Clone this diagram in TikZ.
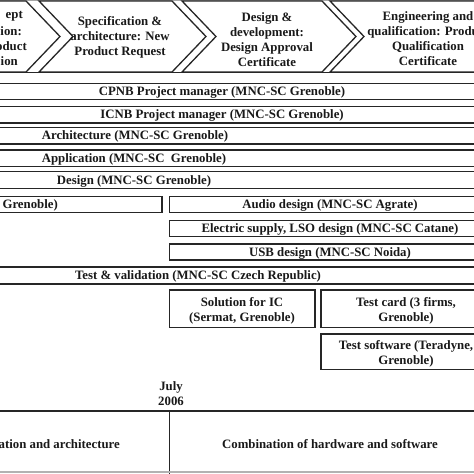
\documentclass[tikz,border=0pt]{standalone}
\usepackage{fontspec}
\setmainfont{Liberation Serif}
\begin{document}
\begin{tikzpicture}[x=1pt,y=-1pt,
  frame/.style={draw=black!85, line width=1.3pt},
  lbl/.style={font=\fontsize{12.8}{15}\selectfont\bfseries, inner sep=0pt, align=center, text=black!90}]
\useasboundingbox (0,0) rectangle (474,474);
\clip (0,0) rectangle (474,474);
\fill[white] (0,0) rectangle (474,474);
% header stages
\draw[gray!70, line width=1.6pt] (0,0.6) -- (474,0.6);
\draw[frame] (-60,1) -- (26,1) -- (60,36.5) -- (26,72) -- (-60,72) -- cycle;
\draw[frame] (39,1) -- (172,1) -- (206,36.5) -- (172,72) -- (39,72) -- (73,36.5) -- cycle;
\draw[frame] (182,1) -- (322,1) -- (356,36.5) -- (322,72) -- (182,72) -- (216,36.5) -- cycle;
\draw[frame] (330,1) -- (540,1) -- (540,72) -- (330,72) -- (364,36.5) -- cycle;
\draw[frame] (0,72.5) -- (474,72.5);
\node[lbl, anchor=east] (s1a) at (23,16.3) {ept};
\node[lbl, anchor=east] (s1b) at (22,31.3) {ion:};
\node[lbl, anchor=east] (s1c) at (27,46.3) {oduct};
\node[lbl, anchor=east] (s1d) at (18,61.3) {ion};
\node[lbl] (s2) at (120,37.8) {Specification \&\\architecture: New\\Product Request};
\node[lbl] (s3) at (267,39.3) {Design \&\\development:\\Design Approval\\Certificate};
\node[lbl] (s4) at (428,38.5) {Engineering and\\qualification: Product\\Qualification\\Certificate};
% full-width bars
\draw[frame] (-10,83.5) rectangle (490,99.5);
\node[lbl] (cpnb) at (222,92.5) {CPNB Project manager (MNC-SC Grenoble)};
\draw[frame] (-10,106.5) rectangle (490,123);
\node[lbl] (icnb) at (222,115.8) {ICNB Project manager (MNC-SC Grenoble)};
\draw[frame] (-10,127.5) rectangle (490,144);
\node[lbl] (arch) at (135,136.8) {Architecture (MNC-SC Grenoble)};
\draw[frame] (-10,150) rectangle (490,166.5);
\node[lbl] (app) at (134,159.3) {Application (MNC-SC\ \ Grenoble)};
\draw[frame] (-10,171.5) rectangle (490,188.5);
\node[lbl] (des) at (134,181) {Design (MNC-SC Grenoble)};
% row of design teams
\draw[frame] (-10,196.5) rectangle (162,212.5);
\node[lbl, anchor=east] (dig) at (58,205.5) {Grenoble)};
\draw[frame] (169.5,196.5) rectangle (495,212.5);
\node[lbl] (audio) at (330,205.5) {Audio design (MNC-SC Agrate)};
\draw[frame] (169.5,220.5) rectangle (495,236.5);
\node[lbl] (elec) at (330,229.5) {Electric supply,\ LSO design (MNC-SC Catane)};
\draw[frame] (169.5,244) rectangle (495,260);
\node[lbl] (usb) at (330,253) {USB design (MNC-SC Noida)};
\draw[frame] (-10,267) rectangle (490,284);
\node[lbl] (test) at (198,276.5) {Test \& validation (MNC-SC Czech Republic)};
% test partners
\draw[frame] (169.5,290) rectangle (315,327.5);
\node[lbl] (sol) at (242,311.2) {Solution for IC\\(Sermat, Grenoble)};
\draw[frame] (321,290) rectangle (495,327.5);
\node[lbl] (card) at (406,311.2) {Test card (3 firms,\\Grenoble)};
\draw[frame] (321,334) rectangle (495,369.5);
\node[lbl] (soft) at (406,353.5) {Test software (Teradyne,\\Grenoble)};
% milestone
\node[lbl] (july) at (171,393.5) {July\\2006};
% bottom band
\draw[frame] (0,411) -- (474,411);
\draw[frame] (169.5,411) -- (169.5,474);
\draw[gray!60, line width=2pt] (0,471.5) -- (474,471.5);
\node[lbl, anchor=east] (spec) at (120,444) {ation and architecture};
\node[lbl] (comb) at (330,444) {Combination of hardware and software};
\end{tikzpicture}
\end{document}
